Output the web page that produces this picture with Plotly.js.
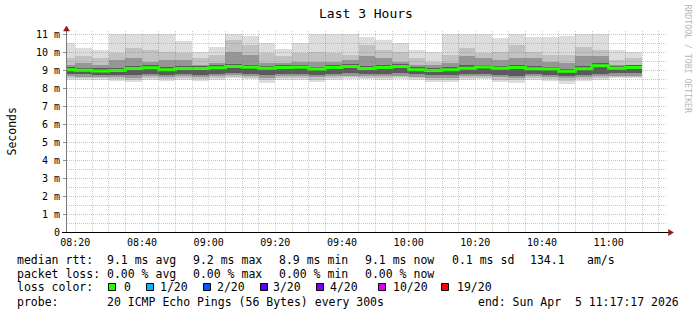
<!DOCTYPE html>
<html><head><meta charset="utf-8">
<script src="https://cdn.plot.ly/plotly-3.0.1.min.js"></script>
<style>html,body{margin:0;padding:0;background:#fff}#chart{width:697px;height:315px}</style>
</head><body><div id="chart"></div>
<script>
// ---------------- data ----------------
const day = '2026-04-05';
const endTimes = ['08:20','08:25','08:30','08:35','08:40','08:45','08:50','08:55','09:00','09:05',
  '09:10','09:15','09:20','09:25','09:30','09:35','09:40','09:45','09:50','09:55',
  '10:00','10:05','10:10','10:15','10:20','10:25','10:30','10:35','10:40','10:45',
  '10:50','10:55','11:00','11:05','11:10'];
// smoke envelope (ms), outermost to innermost
const rttMax = [10.51,10.24,10.14,11.05,11.05,11.05,11.05,10.64,10.02,10.33,11.05,10.92,10.51,10.22,10.51,11.05,11.05,11.05,10.88,10.70,10.55,10.14,10.02,11.01,11.05,11.05,10.83,11.05,10.88,10.88,10.93,11.05,11.05,10.14,10.05];
const rttHi2 = [9.68,9.78,9.68,9.96,10.24,10.15,10.05,9.96,9.68,9.87,10.70,10.42,9.95,9.78,9.96,10.05,9.96,9.87,10.42,10.15,10.05,9.68,9.50,9.87,10.24,9.96,10.05,10.42,10.05,9.87,9.87,10.33,10.15,9.59,9.68];
const rttHi1 = [9.32,9.41,9.32,9.59,9.68,9.50,9.59,9.59,9.32,9.41,10.05,9.87,9.41,9.41,9.50,9.50,9.50,9.59,9.78,9.68,9.50,9.32,9.30,9.41,9.78,9.68,9.59,9.68,9.68,9.50,9.41,9.78,9.78,9.32,9.32];
const rttHi0 = [9.18,9.16,9.12,9.15,9.25,9.28,9.18,9.25,9.24,9.28,9.38,9.33,9.26,9.28,9.31,9.22,9.30,9.36,9.26,9.30,9.35,9.17,9.13,9.17,9.28,9.33,9.27,9.31,9.24,9.21,9.10,9.25,9.40,9.25,9.30];
const rttMedian = [9.04,9.02,8.97,9.00,9.11,9.15,9.04,9.11,9.11,9.15,9.22,9.18,9.12,9.16,9.18,9.08,9.16,9.22,9.11,9.16,9.22,9.04,9.00,9.04,9.13,9.19,9.13,9.17,9.10,9.08,8.96,9.10,9.26,9.13,9.17];
const rttLo0 = [8.80,8.78,8.76,8.76,8.74,8.80,8.76,8.80,8.76,8.80,8.86,8.82,8.74,8.80,8.80,8.76,8.80,8.84,8.82,8.80,8.84,8.78,8.74,8.74,8.80,8.82,8.76,8.72,8.80,8.76,8.70,8.76,8.80,8.84,8.84];
const rttLo1 = [8.68,8.66,8.66,8.64,8.60,8.68,8.64,8.68,8.64,8.68,8.74,8.70,8.60,8.68,8.68,8.62,8.68,8.72,8.70,8.68,8.72,8.66,8.60,8.60,8.68,8.70,8.62,8.58,8.68,8.64,8.56,8.64,8.68,8.72,8.72];
const rttLo2 = [8.58,8.57,8.57,8.54,8.50,8.58,8.54,8.58,8.54,8.58,8.66,8.60,8.48,8.58,8.58,8.50,8.58,8.63,8.60,8.58,8.63,8.57,8.50,8.50,8.58,8.60,8.50,8.45,8.58,8.54,8.42,8.54,8.58,8.64,8.64];
const rttMin = [8.49,8.49,8.49,8.43,8.38,8.49,8.43,8.49,8.43,8.49,8.60,8.52,8.33,8.49,8.49,8.38,8.49,8.55,8.52,8.49,8.55,8.49,8.38,8.38,8.49,8.52,8.38,8.30,8.49,8.43,8.27,8.43,8.49,8.58,8.58];

const yTickVals = [0,1,2,3,4,5,6,7,8,9,10,11];
const yTickText = ['0','1 m','2 m','3 m','4 m','5 m','6 m','7 m','8 m','9 m','10 m','11 m'];
const rttStats = ['9.1 ms avg','9.2 ms max','8.9 ms min','9.1 ms now','0.1 ms sd'];
const amStat = ['134.1','am/s'];
const lossStats = ['0.00 % avg','0.00 % max','0.00 % min','0.00 % now'];
const lossLabels = ['0','1/20','2/20','3/20','4/20','10/20','19/20'];
const lossColors = ['#26ff00','#00b8ff','#0059ff','#5e00ff','#7e00ff','#dd00ff','#ff0000'];
const probeText = '20 ICMP Echo Pings (56 Bytes) every 300s';
const endText = 'end: Sun Apr  5 11:17:17 2026';
const titleText = 'Last 3 Hours';
const yTitle = 'Seconds';
const watermark = 'RRDTOOL / TOBI OETIKER';
const step = 300000; // 5 min per bar

// ---------------- geometry ----------------
const W = 697, H = 315, L = 67, R = 30, T = 30, B = 82;
const PW = W - L - R, PH = H - T - B;
const toMs = hm => Date.parse(day + 'T' + hm + 'Z');
const xs = endTimes.map(toMs);
const x0 = toMs('08:17:30'), x1 = toMs('11:17:30');
const y0 = -1/36, y1 = 11.25;
const pxX = t => L + (t - x0) / (x1 - x0) * PW;
const pxY = v => T + PH * (1 - (v - y0) / (y1 - y0));
const snap = p => Math.floor(p) + 0.5;
const paX = p => (p - L) / PW;
const paY = p => (T + PH - p) / PH;
const MONO = 'DejaVu Sans Mono, monospace';

// ---------------- traces ----------------
function layer(lo, hi, color) {
  return {type: 'bar', x: xs, base: lo, y: hi.map((h, i) => h - lo[i]),
    width: step, offset: -step, marker: {color: color, line: {width: 0}},
    hoverinfo: 'skip', showlegend: false};
}
const traces = [
  layer(rttMin, rttMax, '#dddddd'),
  layer(rttLo2, rttHi2, '#c2c2c2'),
  layer(rttLo1, rttHi1, '#969696'),
  layer(rttLo0, rttHi0, '#5a5a5a'),
  {type: 'scatter', mode: 'lines', x: [xs[0] - step].concat(xs), y: [rttMedian[0]].concat(rttMedian),
   line: {color: lossColors[0], width: 3, shape: 'vh'}, hoverinfo: 'skip', showlegend: false}
];

// ---------------- shapes: grid above data, axes, arrows, legend squares ----------------
const shapes = [];
const minorCol = 'rgba(120,120,120,0.40)', majorColH = 'rgba(255,60,60,0.42)', majorColV = 'rgba(255,70,70,0.30)';
for (let t = toMs('08:20'); t < x1; t += step) {
  const major = ((t - toMs('08:20')) % 1200000) === 0;
  const p = paX(snap(pxX(t)));
  shapes.push({type: 'line', xref: 'paper', yref: 'paper', x0: p, x1: p, y0: paY(232), y1: paY(31),
    line: {color: major ? majorColV : minorCol, width: 1, dash: '1px,1px'}, layer: 'above'});
}
for (let v = 0.5; v <= 11; v += 0.5) {
  const major = Math.abs(v - Math.round(v)) < 1e-9;
  const p = paY(snap(pxY(v)));
  shapes.push({type: 'line', xref: 'paper', yref: 'paper', x0: 0, x1: 1, y0: p, y1: p,
    line: {color: major ? majorColH : minorCol, width: 1, dash: '1px,1px'}, layer: 'above'});
  if (major) shapes.push({type: 'line', xref: 'paper', yref: 'paper', x0: paX(63), x1: paX(66), y0: p, y1: p,
    line: {color: '#909090', width: 1}, layer: 'above'});
}
// axes
const yAxisPx = 66.5, xAxisPy = snap(pxY(0));
shapes.push({type: 'line', xref: 'paper', yref: 'paper', x0: paX(yAxisPx), x1: paX(yAxisPx), y0: paY(xAxisPy), y1: paY(29),
  line: {color: '#7a7a7a', width: 1}, layer: 'above'});
shapes.push({type: 'line', xref: 'paper', yref: 'paper', x0: paX(62), x1: paX(670), y0: paY(xAxisPy), y1: paY(xAxisPy),
  line: {color: '#000000', width: 1}, layer: 'above'});
const tri = pts => 'M' + pts.map(p => paX(p[0]) + ',' + paY(p[1])).join(' L') + ' Z';
shapes.push({type: 'path', xref: 'paper', yref: 'paper', path: tri([[63.5, 31], [66.5, 26], [69.5, 31]]),
  fillcolor: '#8b1a1a', line: {color: '#8b1a1a', width: 0.5}, layer: 'above'});
shapes.push({type: 'path', xref: 'paper', yref: 'paper', path: tri([[668.5, 229.5], [673.5, 232.5], [668.5, 235.5]]),
  fillcolor: '#8b1a1a', line: {color: '#8b1a1a', width: 0.5}, layer: 'above'});
// loss colour squares
const sqLeft = [108.5, 146.5, 203.5, 260.5, 316.5, 378.5, 441.5];
const lblLeft = [124, 160, 216.7, 273.3, 330, 393.3, 456.7];
lossColors.forEach((c, i) => {
  shapes.push({type: 'rect', xref: 'paper', yref: 'paper', x0: paX(sqLeft[i]), x1: paX(sqLeft[i] + 7),
    y0: paY(283.5), y1: paY(290.5), fillcolor: c, line: {color: '#000', width: 1}});
});

// ---------------- text ----------------
const annotations = [];
function txt(text, xpx, ypx, o) {
  o = o || {};
  annotations.push(Object.assign({text: text, xref: 'paper', yref: 'paper', x: paX(xpx), y: paY(ypx),
    xanchor: 'left', yanchor: 'middle', showarrow: false, borderpad: 0, borderwidth: 0,
    font: {family: MONO, size: 11.5, color: '#000'}}, o));
}
txt(titleText, 366, 13, {xanchor: 'center', font: {family: MONO, size: 13, color: '#000'}});
txt(yTitle, 11, 131.5, {xanchor: 'center', textangle: -90, font: {family: MONO, size: 11.5, color: '#000'}});
txt(watermark, 687.5, 59, {xanchor: 'center', textangle: 90, font: {family: MONO, size: 8.2, color: '#b8b8b8'}});
const statX = [107.3, 193.3, 279.3, 365, 451.7];
const L1 = 259.5, L2 = 273.5, L3 = 287.3, L4 = 301.5;
txt('median rtt:', 17, L1);
rttStats.forEach((s, i) => txt(s, statX[i], L1));
txt(amStat[0], 530, L1);
txt(amStat[1], 586.7, L1);
txt('packet loss:', 17, L2);
lossStats.forEach((s, i) => txt(s, statX[i], L2));
txt('loss color:', 17, L3);
lossLabels.forEach((s, i) => txt(s, lblLeft[i], L3));
txt('probe:', 17, L4);
txt(probeText, 107.3, L4);
txt(endText, 478.3, L4);

const layout = {
  width: W, height: H, margin: {l: L, r: R, t: T, b: B, pad: 0},
  paper_bgcolor: '#ffffff', plot_bgcolor: '#ffffff',
  barmode: 'overlay', bargap: 0, showlegend: false, hovermode: false,
  xaxis: {type: 'date', range: [x0, x1], showgrid: false, zeroline: false, showline: false,
    ticks: '', tick0: toMs('08:20'), dtick: 1200000, tickformat: '%H:%M', ticklabelstandoff: 2,
    tickfont: {family: MONO, size: 10, color: '#000'}, fixedrange: true},
  yaxis: {range: [y0, y1], showgrid: false, zeroline: false, showline: false, ticks: '',
    tickvals: yTickVals, ticktext: yTickText, ticklabelstandoff: 6,
    tickfont: {family: MONO, size: 10, color: '#000'}, fixedrange: true},
  shapes: shapes, annotations: annotations
};
Plotly.newPlot('chart', traces, layout, {staticPlot: true, displayModeBar: false});
</script>
</body></html>
